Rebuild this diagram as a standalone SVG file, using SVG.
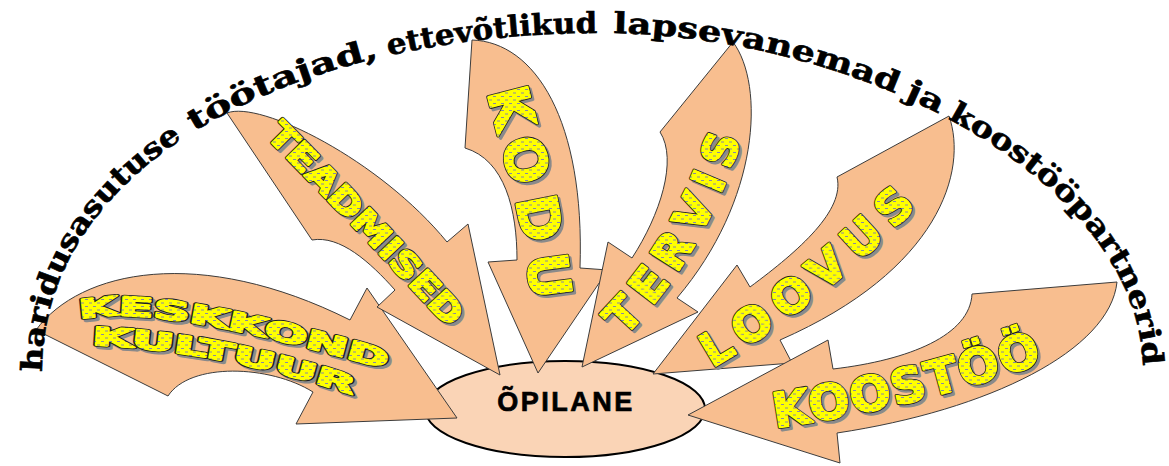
<svg xmlns="http://www.w3.org/2000/svg" width="1169" height="466" viewBox="0 0 1169 466">
<style>
.arrow{fill:#F8BE8F;stroke:#3c3c3c;stroke-width:1;stroke-linejoin:miter}
.f{font-family:"DejaVu Sans","Liberation Sans",sans-serif;font-weight:bold}
.sh{fill:#8a8a8a;stroke:#8a8a8a;stroke-width:3.4;stroke-linejoin:round}
.ol{fill:#1e1e1e;stroke:#1e1e1e;stroke-width:3.6;stroke-linejoin:round}
.w{fill:url(#dash);stroke:url(#dash);stroke-width:2;stroke-linejoin:round}
.arc{font-family:"DejaVu Serif","Liberation Serif",serif;font-weight:bold;font-size:29px;fill:#000;stroke:#000;stroke-width:0.6}
.core{fill:#FAD4B6;stroke:#000;stroke-width:2}
.lbl{font-family:"Liberation Sans",Arial,sans-serif;font-weight:bold;font-size:27px;letter-spacing:2.5px;fill:#000;stroke:#000;stroke-width:0.7}
</style>
<defs>
<pattern id="dash" patternUnits="userSpaceOnUse" width="8" height="7">
<rect width="8" height="7" fill="#FFFF00"/>
<line x1="1" y1="2" x2="4" y2="2" stroke="#7B7BB8" stroke-width="0.9"/>
<line x1="5" y1="5.5" x2="8" y2="5.5" stroke="#7B7BB8" stroke-width="0.9"/>
</pattern>
<path id="pArc" d="M 42 372 C 42 160 300 33 600 33 C 860 33 1143 180 1143 372"/>
<path id="pK1" d="M 80 320 Q 150 300 395 372"/>
<path id="pK2" d="M 92 345 Q 220 350 362 398"/>
<path id="pT" d="M 265 136 Q 360 232 452 332"/>
<path id="pKo" d="M 487 92 C 500 150 522 200 533 312"/>
<path id="pTe" d="M 624 337 Q 710 250 746 122"/>
<path id="pL" d="M 712 368 Q 830 300 932 190"/>
<path id="pKs" d="M 775 428 Q 930 405 1054 358"/>
<text id="tK1" class="f" font-size="26"><textPath href="#pK1" textLength="312" lengthAdjust="spacingAndGlyphs">KESKKOND</textPath></text>
<text id="tK2" class="f" font-size="25"><textPath href="#pK2" textLength="266" lengthAdjust="spacingAndGlyphs">KULTUUR</textPath></text>
<text id="tT" class="f" font-size="34"><textPath href="#pT" textLength="266" lengthAdjust="spacingAndGlyphs">TEADMISED</textPath></text>
<text id="tKo" class="f" font-size="56"><textPath href="#pKo" textLength="214" lengthAdjust="spacing">KODU</textPath></text>
<text id="tTe" class="f" font-size="46"><textPath href="#pTe" textLength="232" lengthAdjust="spacing">TERVIS</textPath></text>
<text id="tL" class="f" font-size="46"><textPath href="#pL" textLength="262" lengthAdjust="spacing">LOOVUS</textPath></text>
<text id="tKs" class="f" font-size="48"><textPath href="#pKs" textLength="276" lengthAdjust="spacing">KOOSTÖÖ</textPath></text>
</defs>

<g id="opilane">
<ellipse class="core" cx="565" cy="409" rx="140" ry="48"/>
<text class="lbl" x="566" y="411" text-anchor="middle">ÕPILANE</text>
</g>

<g id="connectors">
<g id="keskkond">
<path class="arrow" d="M 36 330 C 80 270 200 245 350 320 L 367 288 L 457 418 L 296 424 L 313 392 C 270 365 190 362 168 396 Z"/>
<use href="#tK1" class="sh" transform="translate(2.5,2.5)"/>
<use href="#tK2" class="sh" transform="translate(2.5,2.5)"/>
<use href="#tK1" class="ol"/>
<use href="#tK2" class="ol"/>
<use href="#tK1" class="w"/>
<use href="#tK2" class="w"/>
</g>

<g id="teadmised">
<path class="arrow" d="M 227 113 C 260 100 380 160 447 242 L 468 224 L 500 375 L 377 307 L 395 290 C 370 262 340 235 312 240 Z"/>
<use href="#tT" class="sh" transform="translate(2.5,2.5)"/>
<use href="#tT" class="ol"/>
<use href="#tT" class="w"/>
</g>

<g id="kodu">
<path class="arrow" d="M 472 40 C 535 42 585 120 580 268 L 608 270 L 538 373 L 488 262 L 517 260 C 517 210 505 160 465 148 Z"/>
<use href="#tKo" class="sh" transform="translate(2.5,2.5)"/>
<use href="#tKo" class="ol"/>
<use href="#tKo" class="w"/>
</g>

<g id="tervis">
<path class="arrow" d="M 733 42 C 765 85 760 200 677 298 L 698 312 L 582 367 L 608 242 L 632 258 C 660 215 678 160 660 132 Z"/>
<use href="#tTe" class="sh" transform="translate(2.5,2.5)"/>
<use href="#tTe" class="ol"/>
<use href="#tTe" class="w"/>
</g>

<g id="loovus">
<path class="arrow" d="M 949 116 C 968 170 940 270 780 340 L 792 363 L 653 374 L 737 265 L 750 287 C 800 250 845 210 837 177 Z"/>
<use href="#tL" class="sh" transform="translate(2.5,2.5)"/>
<use href="#tL" class="ol"/>
<use href="#tL" class="w"/>
</g>

<g id="koostoo">
<path class="arrow" d="M 1117 282 C 1110 350 990 410 837 433 L 840 463 L 688 415 L 828 340 L 833 369 C 910 360 970 335 972 294 Z"/>
<use href="#tKs" class="sh" transform="translate(2.5,2.5)"/>
<use href="#tKs" class="ol"/>
<use href="#tKs" class="w"/>
</g>
</g>

<g id="arc-text">
<text class="arc">
<textPath href="#pArc" startOffset="0" textLength="284" lengthAdjust="spacingAndGlyphs">haridusasutuse</textPath>
<textPath href="#pArc" startOffset="298" textLength="200" lengthAdjust="spacingAndGlyphs">töötajad,</textPath>
<textPath href="#pArc" startOffset="508" textLength="210" lengthAdjust="spacingAndGlyphs">ettevõtlikud</textPath>
<textPath href="#pArc" startOffset="734" textLength="290" lengthAdjust="spacingAndGlyphs">lapsevanemad</textPath>
<textPath href="#pArc" startOffset="1034" textLength="38" lengthAdjust="spacingAndGlyphs">ja</textPath>
<textPath href="#pArc" startOffset="1082" textLength="330" lengthAdjust="spacingAndGlyphs">koostööpartnerid</textPath>
</text>
</g>
</svg>
